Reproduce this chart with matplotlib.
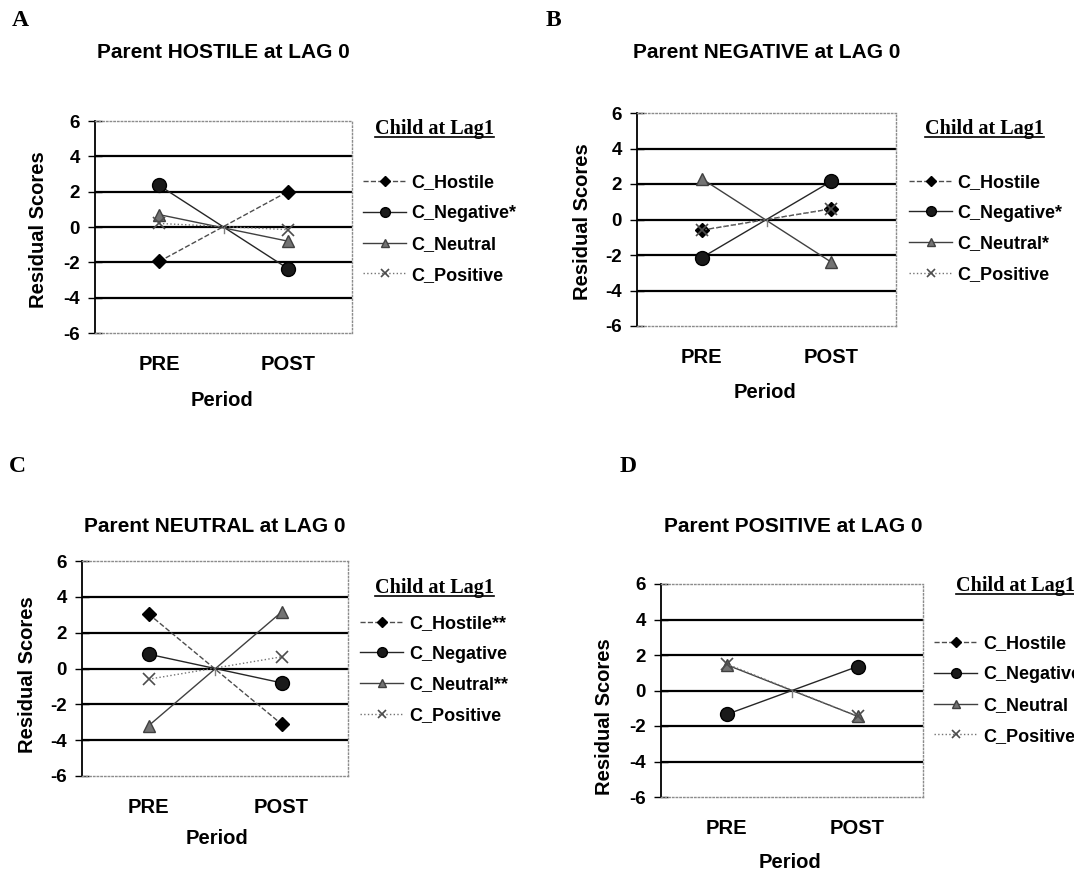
import matplotlib.pyplot as plt
import numpy as np
from matplotlib.lines import Line2D

plt.rcParams['font.family'] = ['Liberation Sans', 'DejaVu Sans']
plt.rcParams['axes.unicode_minus'] = False

# data (residual scores, PRE / POST)
periods = ['PRE', 'POST']
series = ['C_Hostile', 'C_Negative', 'C_Neutral', 'C_Positive']

hostile_A = [-1.95, 2.0]
negative_A = [2.35, -2.35]
neutral_A = [0.7, -0.8]
positive_A = [0.2, -0.15]
labels_A = ['C_Hostile', 'C_Negative*', 'C_Neutral', 'C_Positive']

hostile_B = [-0.6, 0.6]
negative_B = [-2.15, 2.15]
neutral_B = [2.3, -2.4]
positive_B = [-0.6, 0.6]
labels_B = ['C_Hostile', 'C_Negative*', 'C_Neutral*', 'C_Positive']

hostile_C = [3.05, -3.1]
negative_C = [0.8, -0.8]
neutral_C = [-3.2, 3.15]
positive_C = [-0.6, 0.65]
labels_C = ['C_Hostile**', 'C_Negative', 'C_Neutral**', 'C_Positive']

hostile_D = [np.nan, np.nan]   # not visible in the panel
negative_D = [-1.35, 1.35]
neutral_D = [1.45, -1.45]
positive_D = [1.5, -1.45]
labels_D = ['C_Hostile', 'C_Negative', 'C_Neutral', 'C_Positive']

W, H = 1074, 874
fig = plt.figure(figsize=(W / 100, H / 100), dpi=100)


def fx(px):
    return px / W


def fy(py):
    return 1 - py / H


# marker / line style per child code
styles = [
    dict(marker='D', ms=7, color='0.3', ls='--', mfc='black', mec='black'),
    dict(marker='o', ms=10, color='0.15', ls='-', mfc='0.1', mec='black'),
    dict(marker='^', ms=9, color='0.25', ls='-', mfc='0.45', mec='0.25'),
    dict(marker='x', ms=9, color='0.45', ls=':', mfc='0.3', mec='0.3', mew=1.2),
]

panels = [
    dict(letter='A', letter_xy=(20, 21), title='Parent HOSTILE at LAG 0', title_xy=(223, 52),
         rect=(95, 121, 352, 333), vals=[hostile_A, negative_A, neutral_A, positive_A],
         labels=labels_A, ylab_xy=(39, 230), xlab_xy=(222, 400),
         leg_title_xy=(375, 134), leg_xy=(363, 229)),
    dict(letter='B', letter_xy=(553, 20), title='Parent NEGATIVE at LAG 0', title_xy=(767, 52),
         rect=(637, 113, 896, 326), vals=[hostile_B, negative_B, neutral_B, positive_B],
         labels=labels_B, ylab_xy=(582, 222), xlab_xy=(765, 392),
         leg_title_xy=(925, 134), leg_xy=(909, 228.5)),
    dict(letter='C', letter_xy=(17, 467), title='Parent NEUTRAL at LAG 0', title_xy=(215, 526),
         rect=(82, 561, 348, 776), vals=[hostile_C, negative_C, neutral_C, positive_C],
         labels=labels_C, ylab_xy=(28, 675), xlab_xy=(217, 838),
         leg_title_xy=(375, 593), leg_xy=(360, 669.5)),
    dict(letter='D', letter_xy=(628, 467), title='Parent POSITIVE at LAG 0', title_xy=(793, 527),
         rect=(661, 584, 923, 797), vals=[hostile_D, negative_D, neutral_D, positive_D],
         labels=labels_D, ylab_xy=(604, 717), xlab_xy=(790, 863),
         leg_title_xy=(956, 591), leg_xy=(934, 690)),
]

leg_titles = []
x = np.arange(len(periods))
for p in panels:
    l, t, r, b = p['rect']
    ax = fig.add_axes([fx(l), fy(b), fx(r) - fx(l), fy(t) - fy(b)])
    handles = []
    for vals, st, lab in zip(p['vals'], styles, p['labels']):
        h, = ax.plot(x, vals, lw=1.0, label=lab, **st)
        handles.append(h)
    ax.set_xlim(-0.5, 1.5)
    ax.set_ylim(-6, 6)
    ax.set_yticks([-6, -4, -2, 0, 2, 4, 6])
    ax.set_xticks(x)
    ax.set_xticklabels(periods, fontsize=14.5, fontweight='bold')
    for lab in ax.get_yticklabels():
        lab.set_fontweight('bold')
    ax.tick_params(axis='y', labelsize=13.5, length=10, width=1, pad=6, direction='inout')
    ax.tick_params(axis='x', length=0, pad=16)
    for yv in [-4, -2, 0, 2, 4]:
        ax.axhline(yv, color='black', lw=1.6, zorder=1)
    ax.axvline(0.5, 0.47, 0.5, color='0.5', lw=1)
    for s in ['top', 'bottom', 'right']:
        ax.spines[s].set_linestyle(':')
        ax.spines[s].set_color('0.55')
        ax.spines[s].set_linewidth(1)
    ax.spines['left'].set_linewidth(1.3)

    fig.text(fx(p['letter_xy'][0]), fy(p['letter_xy'][1]), p['letter'], family='Liberation Serif',
             fontweight='bold', fontsize=17, ha='center', va='center')
    fig.text(fx(p['title_xy'][0]), fy(p['title_xy'][1]), p['title'], fontweight='bold',
             fontsize=15, ha='center', va='center')
    fig.text(fx(p['ylab_xy'][0]), fy(p['ylab_xy'][1]), 'Residual Scores', fontweight='bold',
             fontsize=14.5, ha='center', va='center', rotation=90)
    fig.text(fx(p['xlab_xy'][0]), fy(p['xlab_xy'][1]), 'Period', fontweight='bold',
             fontsize=14.5, ha='center', va='center')
    tt = fig.text(fx(p['leg_title_xy'][0]), fy(p['leg_title_xy'][1]), 'Child at Lag1',
                  family='Liberation Serif', fontweight='bold', fontsize=14.5, ha='left',
                  va='baseline')
    leg_titles.append(tt)

    leg = ax.legend(handles=handles, loc='center left',
                    bbox_to_anchor=(fx(p['leg_xy'][0]), fy(p['leg_xy'][1])),
                    bbox_transform=fig.transFigure, frameon=False, fontsize=13,
                    borderpad=0, borderaxespad=0, handlelength=2.4, handletextpad=0.3,
                    labelspacing=0.76, markerscale=0.7)
    for txt in leg.get_texts():
        txt.set_fontweight('bold')

# underline the legend titles
fig.canvas.draw()
for tt in leg_titles:
    bb = tt.get_window_extent()
    xb, yb = tt.get_position()
    yl = yb - 3 / H
    fig.add_artist(Line2D([bb.x0 / W, bb.x1 / W], [yl, yl], color='black', lw=1.2,
                          transform=fig.transFigure))

fig.savefig('out.png', dpi=100)
